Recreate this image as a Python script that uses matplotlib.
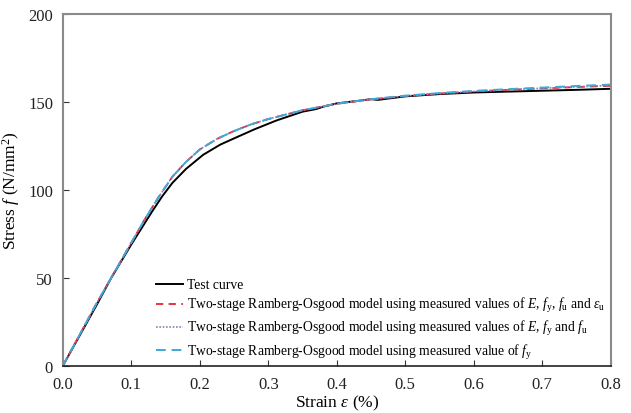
import matplotlib
matplotlib.use("Agg")
import matplotlib.pyplot as plt

plt.rcParams['font.family'] = ['Liberation Serif', 'DejaVu Serif']
plt.rcParams['mathtext.fontset'] = 'custom'
plt.rcParams['mathtext.rm'] = 'Liberation Serif'
plt.rcParams['mathtext.it'] = 'Liberation Serif:italic'
plt.rcParams['mathtext.bf'] = 'Liberation Serif:bold'

# Test curve
test_strain = [0, 0.05, 0.07, 0.1, 0.13, 0.145, 0.16, 0.18, 0.205, 0.23, 0.254, 0.28, 0.312,
               0.35, 0.37, 0.38, 0.4, 0.43, 0.45, 0.46, 0.5, 0.55, 0.6, 0.65, 0.7, 0.75, 0.8]
test_stress = [0, 35, 49.5, 69, 87.5, 96.3, 104, 112, 120, 125.8, 130, 134.5, 139.5,
               144.5, 146.0, 147.3, 149.2, 150.6, 151.6, 151.2, 153.2, 154.5, 155.4, 155.9, 156.4, 156.9, 157.5]

# Model 1: E, fy, fu, eu
m1_strain = [0, 0.05, 0.1, 0.12, 0.14, 0.16, 0.18, 0.2, 0.225, 0.25, 0.275, 0.3, 0.35, 0.4, 0.45,
             0.5, 0.55, 0.6, 0.65, 0.7, 0.75, 0.8]
m1_stress = [0, 36, 70, 83.5, 96, 107.5, 116, 123, 129, 133.5, 137.3, 140.3, 145.3, 149, 151.5,
             153.4, 154.8, 156, 156.9, 157.7, 158.5, 159.2]
# Model 2: E, fy, fu
m2_strain = [0, 0.05, 0.1, 0.12, 0.14, 0.16, 0.18, 0.2, 0.225, 0.25, 0.275, 0.3, 0.35, 0.4, 0.45,
             0.5, 0.55, 0.6, 0.65, 0.7, 0.75, 0.8]
m2_stress = [0, 36, 70, 83.5, 96, 107.5, 116, 123, 129, 133.5, 137.3, 140.3, 145.3, 149, 151.5,
             153.4, 154.8, 156, 157.0, 157.8, 158.6, 159.4]
# Model 3: fy only
m3_strain = [0, 0.05, 0.1, 0.12, 0.14, 0.16, 0.18, 0.2, 0.225, 0.25, 0.275, 0.3, 0.35, 0.4, 0.45,
             0.5, 0.55, 0.6, 0.65, 0.7, 0.75, 0.8]
m3_stress = [0, 36, 70, 83.5, 96, 107.5, 116, 123, 129, 133.5, 137.3, 140.3, 145.3, 149, 151.6,
             153.6, 155.1, 156.3, 157.3, 158.2, 159.1, 159.9]

labels = [
    "Test curve",
    r"Two-stage Ramberg-Osgood model using measured values of $E$, $f_{\rm y}$, $f_{\rm u}$ and $\varepsilon_{\rm u}$",
    r"Two-stage Ramberg-Osgood model using measured values of $E$, $f_{\rm y}$ and $f_{\rm u}$",
    r"Two-stage Ramberg-Osgood model using measured value of $f_{\rm y}$",
]

fig = plt.figure(figsize=(6.31, 4.14), dpi=100)
ax = fig.add_axes([0.0994, 0.1135, 0.8686, 0.8503])

ax.plot(test_strain, test_stress, color='black', lw=1.4, label=labels[0])
ax.plot(m1_strain, m1_stress, color='#e5202e', lw=1.3, ls=(0, (4, 3)), label=labels[1])
ax.plot(m2_strain, m2_stress, color='#8c7fb5', lw=1.2, ls=(0, (1, 1)), label=labels[2])
ax.plot(m3_strain, m3_stress, color='#3fa9d8', lw=1.4, ls=(0, (5, 3)), label=labels[3])

ax.set_xlim(0, 0.8)
ax.set_ylim(0, 200)
ax.set_xticks([0, 0.1, 0.2, 0.3, 0.4, 0.5, 0.6, 0.7, 0.8])
ax.set_xticklabels(['0.0', '0.1', '0.2', '0.3', '0.4', '0.5', '0.6', '0.7', '0.8'])
ax.set_yticks([0, 50, 100, 150, 200])
ax.tick_params(axis='both', direction='in', length=4, labelsize=12, colors='#333333',
               labelcolor='#222222', pad=7)

for s in ['left', 'top', 'right']:
    ax.spines[s].set_color('#8a8a8a')
    ax.spines[s].set_linewidth(1.5)
ax.spines['bottom'].set_color('#222222')
ax.spines['bottom'].set_linewidth(1.2)

ax.set_xlabel(r"Strain $\varepsilon$ (%)", fontsize=12.5, labelpad=1)
ax.set_ylabel(r"Stress $f$ (N/mm$^2$)", fontsize=12.5, labelpad=4)

leg = ax.legend(loc='lower left', bbox_to_anchor=(0.16, 0.0), frameon=False,
                fontsize=9.8, handlelength=2.0, handletextpad=0.3, labelspacing=0.3,
                borderaxespad=0)

fig.savefig("out.png", dpi=100)
